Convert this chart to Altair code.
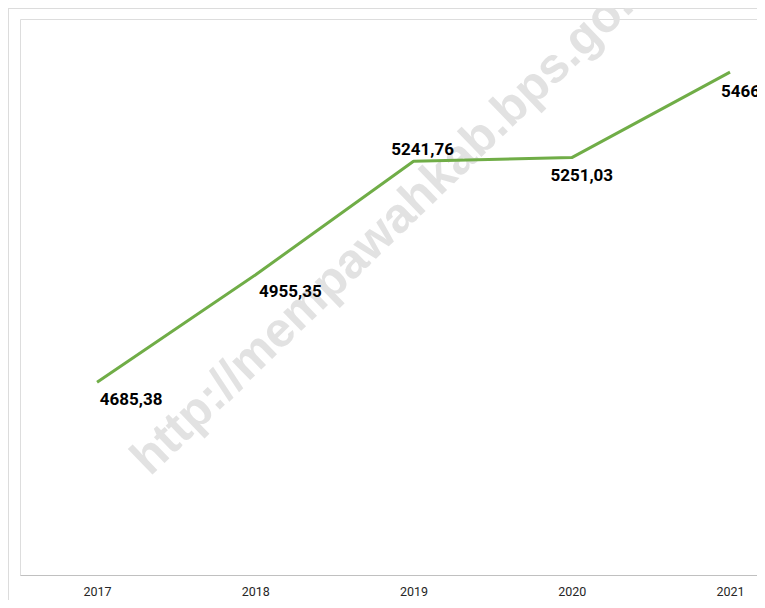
import altair as alt
import pandas as pd

years = [2017, 2018, 2019, 2020, 2021]
values = [4685.38, 4955.35, 5241.76, 5251.03, 5466.35]
watermark = "http://mempawahkab.bps.go.id"

labels = [f"{v:.2f}".replace(".", ",") for v in values]
df = pd.DataFrame({"year": years, "value": values, "label": labels})

W, H = 737, 556
xscale = alt.Scale(domain=[2016.513, 2021.1705], nice=False, zero=False)
yscale = alt.Scale(domain=[4200, 5600], nice=False, zero=False)

base = alt.Chart(df)
one = pd.DataFrame({"k": [0]})

frame_top = alt.Chart(one).mark_rule(color="#dcdcdc", strokeWidth=1).encode(
    x=alt.value(-12), x2=alt.value(W + 60), y=alt.value(-10.5)
)
frame_left = alt.Chart(one).mark_rule(color="#dcdcdc", strokeWidth=1).encode(
    x=alt.value(-11.5), y=alt.value(-11), y2=alt.value(H + 80)
)

wm = alt.Chart(pd.DataFrame({"t": [watermark]})).mark_text(
    angle=316, align="left", baseline="alphabetic",
    font="Liberation Sans", fontWeight="bold", fontSize=49, color="#e2e2e2",
).encode(x=alt.value(130), y=alt.value(458), text="t:N")

line = base.mark_line(color="#70ad47", strokeWidth=3, strokeJoin="round").encode(
    x=alt.X("year:Q", scale=xscale,
            axis=alt.Axis(values=years, format="d", title=None, grid=False,
                          ticks=False, tickSize=0, labelPadding=10,
                          labelFont="Roboto", labelFontSize=12.5,
                          labelColor="#262626", domainColor="#c0c0c0",
                          domainWidth=1, labelFlush=False)),
    y=alt.Y("value:Q", scale=yscale, axis=None),
)

offsets = {
    2017: ("center", 34, 18),
    2018: ("center", 35, 16.5),
    2019: ("center", 9, -11.4),
    2020: ("center", 10, 18.8),
    2021: ("left", -9, 19.7),
}
text_layers = []
for yr, (al, dx, dy) in offsets.items():
    text_layers.append(
        base.transform_filter(alt.datum.year == yr).mark_text(
            align=al, baseline="middle", dx=dx, dy=dy,
            font="Roboto", fontWeight="bold", fontSize=17, color="#000000",
        ).encode(
            x=alt.X("year:Q", scale=xscale),
            y=alt.Y("value:Q", scale=yscale),
            text="label:N",
        )
    )

chart = alt.layer(frame_top, frame_left, wm, line, *text_layers).properties(
    width=W, height=H,
    autosize=alt.AutoSizeParams(type="none"),
    padding={"left": 12, "top": 11, "right": 0, "bottom": 25},
).configure_view(stroke=None).configure(background="white")

chart.save("out.html", embed_options={"renderer": "svg", "actions": False})
